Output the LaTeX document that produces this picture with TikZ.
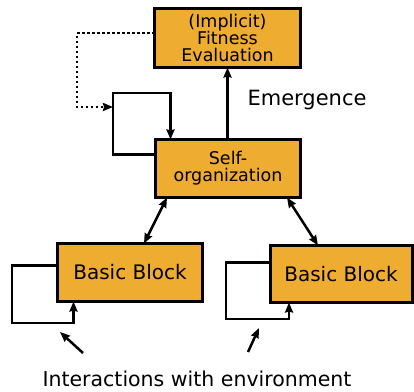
\documentclass[tikz,border=0pt]{standalone}
\usepackage{fontspec}
\setmainfont{DejaVu Sans}
\definecolor{block}{RGB}{238,172,48}
\usetikzlibrary{
  positioning,     % relative placement
  arrows.meta      % arrow tips
}
\tikzset{
  every node/.style = {
    inner sep = 2pt,
    outer sep = 0pt
  },
  blockbox/.style = {
    rectangle,
    draw,
    line width=3pt,
    fill = block,
    align = center,
    font = \fontsize{17.5}{17}\selectfont
  },
  basicbox/.append style = {blockbox, font = \fontsize{20}{20}\selectfont},
  plaintext/.style = {font = \fontsize{20.5}{20}\selectfont},
  link/.style = {line width=2.5pt, -{Stealth[length=10pt,width=8pt,inset=1pt]}},
  bilink/.style = {line width=2.5pt, {Stealth[length=10pt,width=8pt,inset=1pt]}-{Stealth[length=10pt,width=8pt,inset=1pt]}},
  feedback/.style = {line width=2.5pt, dash pattern=on 2.5pt off 2.5pt, -{Stealth[length=10pt,width=8pt,inset=1pt]}}
}

\begin{document}
\begin{tikzpicture}[x=1pt, y=-1pt]
\useasboundingbox (0,0) rectangle (414,391);

% blocks
\node[blockbox, minimum width=146pt, minimum height=59pt] (fitness) at (227.5,38) {(Implicit)\\Fitness\\Evaluation};
\node[blockbox, minimum width=145pt, minimum height=58pt] (selforg) at (228,168.5) {Self-\\organization};
\node[basicbox, minimum width=145pt, minimum height=58pt] (bbleft) at (130,272.5) {Basic Block};
\node[basicbox, minimum width=142pt, minimum height=57pt] (bbright) at (341,274) {Basic Block};

% labels
\node[plaintext, font=\fontsize{21}{21}\selectfont] (emerge) at (307,100) {Emergence};
\node[plaintext] (interact) at (197,379) {Interactions with environment};

% loop corners and free ends
\coordinate (sloop) at (113,93);
\coordinate (lloop) at (12,323);
\coordinate (rloop) at (226,319);
\coordinate (dotcorner) at (77,107);
\coordinate (envleft) at (83,353);
\coordinate (envleftend) at (60,332);
\coordinate (envright) at (248,352);
\coordinate (envrightend) at (259,328);

% connectors
\draw[link] (selforg.north -| fitness.south) -- (fitness.south);
\draw[link] ([yshift=-15pt]selforg.north west) -| (sloop) -| ([xshift=15pt]selforg.north west);
\draw[feedback] ([yshift=5pt]fitness.west) -| (dotcorner) -- (dotcorner -| sloop);
\draw[bilink] ([xshift=-61pt]selforg.south) -- ([xshift=14pt]bbleft.north);
\draw[bilink] ([xshift=59pt]selforg.south) -- ([xshift=-23pt]bbright.north);
\draw[link] ([yshift=-22pt]bbleft.north west) -| (lloop) -| ([xshift=16pt]bbleft.south west);
\draw[link] ([yshift=-17pt]bbright.north west) -| (rloop) -| ([xshift=19pt]bbright.south west);
\draw[link] (envleft) -- (envleftend);
\draw[link] (envright) -- (envrightend);
\end{tikzpicture}
\end{document}
